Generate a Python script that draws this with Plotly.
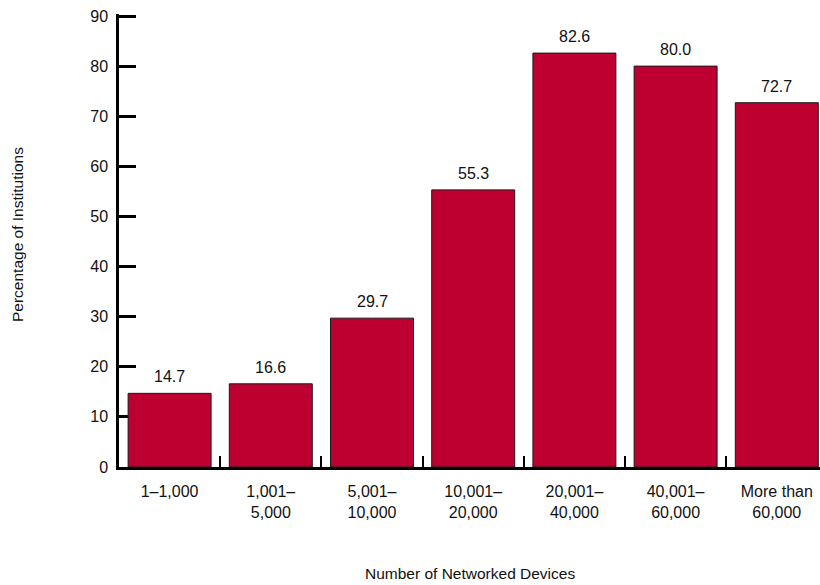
import plotly.graph_objects as go

categories = ["1–1,000", "1,001–<br>5,000", "5,001–<br>10,000", "10,001–<br>20,000",
              "20,001–<br>40,000", "40,001–<br>60,000", "More than<br>60,000"]
values = [14.7, 16.6, 29.7, 55.3, 82.6, 80.0, 72.7]
value_labels = ["14.7", "16.6", "29.7", "55.3", "82.6", "80.0", "72.7"]
y_ticks = [0, 10, 20, 30, 40, 50, 60, 70, 80, 90]

FONT = "Liberation Sans, Arial, Helvetica, sans-serif"
BAR = "#BE0030"

W, H = 820, 585
L, R, T, B = 119, 0, 14, 118
Y_TOP = 90.4
pw = W - L - R
ph = H - T - B

fig = go.Figure()
fig.add_trace(go.Bar(
    x=categories, y=values,
    marker=dict(color=BAR, line=dict(color="#1a1a1a", width=1)),
    width=0.82, hoverinfo="skip",
))

for c, v, t in zip(categories, values, value_labels):
    fig.add_annotation(x=c, y=v, text=t, showarrow=False, yanchor="bottom",
                       yshift=6, font=dict(family=FONT, size=16, color="#111"))

fig.add_annotation(xref="paper", yref="paper", x=(17 - L) / pw, y=(H - B - 235) / ph,
                   text="Percentage of Institutions", textangle=-90, showarrow=False,
                   xanchor="center", yanchor="middle", font=dict(family=FONT, size=15.5, color="#111"))
fig.add_annotation(xref="paper", yref="paper", x=(470 - L) / pw, y=-(573 - (H - B)) / ph,
                   text="Number of Networked Devices", showarrow=False,
                   xanchor="center", yanchor="middle", font=dict(family=FONT, size=15.5, color="#111"))

fig.update_layout(
    width=W, height=H,
    margin=dict(l=L, r=R, t=T, b=B),
    paper_bgcolor="white", plot_bgcolor="white",
    showlegend=False,
    font=dict(family=FONT, size=16, color="#111"),
    xaxis=dict(
        type="category",
        range=[-0.5, -0.5 + pw / 101.2],
        showline=True, linecolor="black", linewidth=2.5,
        ticks="inside", tickson="boundaries", ticklen=11, tickwidth=2, tickcolor="black",
        showgrid=False, zeroline=False, fixedrange=True,
        ticklabelstandoff=8, layer="below traces",
    ),
    yaxis=dict(
        range=[0, Y_TOP], tickmode="array", tickvals=y_ticks,
        showline=True, linecolor="black", linewidth=2.5,
        ticks="inside", ticklen=17, tickwidth=2.5, tickcolor="black",
        showgrid=False, zeroline=False, fixedrange=True,
        ticklabelstandoff=5, layer="below traces",
    ),
)

fig.write_html("out.html")
